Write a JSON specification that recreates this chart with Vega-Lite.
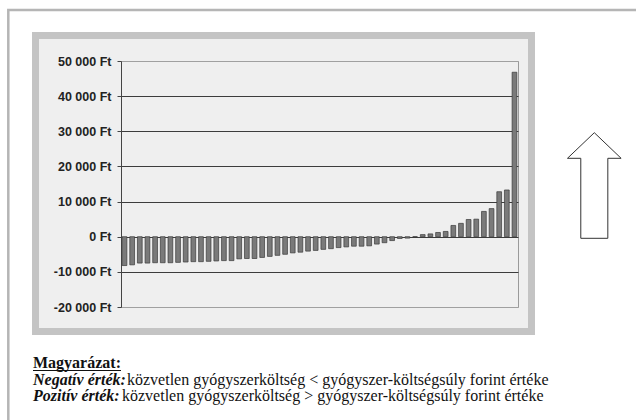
{
  "$schema": "https://vega.github.io/schema/vega-lite/v6.json",
  "width": 397,
  "height": 246,
  "autosize": {"type": "none"},
  "padding": {"left": 121, "top": 61, "right": 118, "bottom": 113},
  "background": "#efefef",
  "config": {
    "view": {"stroke": "#9a9a9a", "fill": "#efefef", "strokeWidth": 1}
  },
  "layer": [
    {
      "data": {"values": [{"part": "page"}]},
      "mark": {"type": "rect", "fill": null, "stroke": "white", "strokeWidth": 200},
      "encoding": {
        "x": {"value": -189}, "x2": {"value": 514},
        "y": {"value": -129}, "y2": {"value": 374}
      }
    },
    {
      "data": {"values": [{"part": "frame"}]},
      "mark": {"type": "rect", "fill": null, "stroke": "#c4c4c4", "strokeWidth": 7},
      "encoding": {
        "x": {"value": -85.5}, "x2": {"value": 410.5},
        "y": {"value": -25.5}, "y2": {"value": 270.5}
      }
    },
    {
      "data": {"values": [{"part": "border"}]},
      "mark": {"type": "rect", "fill": null, "stroke": "#b5b5b5", "strokeWidth": 2.5},
      "encoding": {
        "x": {"value": -112.7}, "x2": {"value": 530},
        "y": {"value": -51}, "y2": {"value": 400}
      }
    },
    {
      "data": {
        "values": [
          {"i": 0, "v": -8200}, {"i": 1, "v": -8000}, {"i": 2, "v": -7500}, {"i": 3, "v": -7500},
          {"i": 4, "v": -7400}, {"i": 5, "v": -7400}, {"i": 6, "v": -7400}, {"i": 7, "v": -7300},
          {"i": 8, "v": -7200}, {"i": 9, "v": -7100}, {"i": 10, "v": -7100}, {"i": 11, "v": -7000},
          {"i": 12, "v": -6900}, {"i": 13, "v": -6800}, {"i": 14, "v": -6800}, {"i": 15, "v": -6300},
          {"i": 16, "v": -6200}, {"i": 17, "v": -6200}, {"i": 18, "v": -5900}, {"i": 19, "v": -5600},
          {"i": 20, "v": -5300}, {"i": 21, "v": -5000}, {"i": 22, "v": -4600}, {"i": 23, "v": -4400},
          {"i": 24, "v": -4100}, {"i": 25, "v": -3900}, {"i": 26, "v": -3600}, {"i": 27, "v": -3400},
          {"i": 28, "v": -3100}, {"i": 29, "v": -2900}, {"i": 30, "v": -2700}, {"i": 31, "v": -2700},
          {"i": 32, "v": -2600}, {"i": 33, "v": -2100}, {"i": 34, "v": -1700}, {"i": 35, "v": -1100},
          {"i": 36, "v": -500}, {"i": 37, "v": -400}, {"i": 38, "v": 0}, {"i": 39, "v": 600},
          {"i": 40, "v": 800}, {"i": 41, "v": 1200}, {"i": 42, "v": 1500}, {"i": 43, "v": 3200},
          {"i": 44, "v": 3800}, {"i": 45, "v": 4900}, {"i": 46, "v": 5000}, {"i": 47, "v": 7200},
          {"i": 48, "v": 8000}, {"i": 49, "v": 12800}, {"i": 50, "v": 13300}, {"i": 51, "v": 46800}
        ]
      },
      "mark": {"type": "bar", "fill": "#7a7a7a", "stroke": "#3a3a3a", "strokeWidth": 0.7},
      "encoding": {
        "x": {
          "field": "i", "type": "ordinal", "axis": null,
          "scale": {"paddingInner": 0.38, "paddingOuter": 0.15}
        },
        "y": {
          "field": "v", "type": "quantitative",
          "scale": {"domain": [-20000, 50000], "nice": false},
          "axis": {
            "title": null,
            "values": [-20000, -10000, 0, 10000, 20000, 30000, 40000, 50000],
            "labelExpr": "(datum.value < 0 ? '-' : '') + replace(format(abs(datum.value), ','), ',', ' ') + ' Ft'",
            "labelFont": "Liberation Sans",
            "labelFontWeight": "bold",
            "labelFontSize": 12.5,
            "labelColor": "#222222",
            "labelPadding": 6,
            "tickSize": 4,
            "tickColor": "#444444",
            "domainColor": "#444444",
            "grid": true,
            "gridColor": {"condition": {"test": "datum.value == 50000 || datum.value == -20000", "value": "#a0a0a0"}, "value": "#3c3c3c"},
            "gridWidth": 1
          }
        }
      }
    },
    {
      "data": {"values": [{"t": "Magyarázat:"}]},
      "mark": {"type": "text", "font": "Liberation Serif", "fontSize": 16, "fontWeight": "bold", "align": "left", "baseline": "alphabetic", "color": "#111111"},
      "encoding": {"text": {"field": "t"}, "x": {"value": -88}, "y": {"value": 307}}
    },
    {
      "data": {"values": [{"t": "underline"}]},
      "mark": {"type": "rule", "stroke": "#111111", "strokeWidth": 1.2},
      "encoding": {"x": {"value": -88}, "x2": {"value": 0}, "y": {"value": 309.5}}
    },
    {
      "data": {"values": [{"t": "Negatív érték:"}]},
      "mark": {"type": "text", "font": "Liberation Serif", "fontSize": 16, "fontWeight": "bold", "fontStyle": "italic", "align": "left", "baseline": "alphabetic", "color": "#111111"},
      "encoding": {"text": {"field": "t"}, "x": {"value": -88}, "y": {"value": 324}}
    },
    {
      "data": {"values": [{"t": "közvetlen gyógyszerköltség < gyógyszer-költségsúly forint értéke"}]},
      "mark": {"type": "text", "font": "Liberation Serif", "fontSize": 16, "align": "left", "baseline": "alphabetic", "color": "#111111"},
      "encoding": {"text": {"field": "t"}, "x": {"value": 6}, "y": {"value": 324}}
    },
    {
      "data": {"values": [{"t": "Pozitív érték:"}]},
      "mark": {"type": "text", "font": "Liberation Serif", "fontSize": 16, "fontWeight": "bold", "fontStyle": "italic", "align": "left", "baseline": "alphabetic", "color": "#111111"},
      "encoding": {"text": {"field": "t"}, "x": {"value": -88}, "y": {"value": 340}}
    },
    {
      "data": {"values": [{"t": "közvetlen gyógyszerköltség > gyógyszer-költségsúly forint értéke"}]},
      "mark": {"type": "text", "font": "Liberation Serif", "fontSize": 16, "align": "left", "baseline": "alphabetic", "color": "#111111"},
      "encoding": {"text": {"field": "t"}, "x": {"value": 1}, "y": {"value": 340}}
    },
    {
      "data": {"values": [{"t": "arrow"}]},
      "mark": {
        "type": "point",
        "shape": "M0,-1L0.508,-0.515L0.256,-0.515L0.256,1L-0.256,1L-0.256,-0.515L-0.508,-0.515Z",
        "size": 11151,
        "filled": true,
        "fill": "white",
        "stroke": "#333333",
        "strokeWidth": 1,
        "opacity": 1
      },
      "encoding": {"x": {"value": 473.3}, "y": {"value": 124.5}}
    }
  ]
}
